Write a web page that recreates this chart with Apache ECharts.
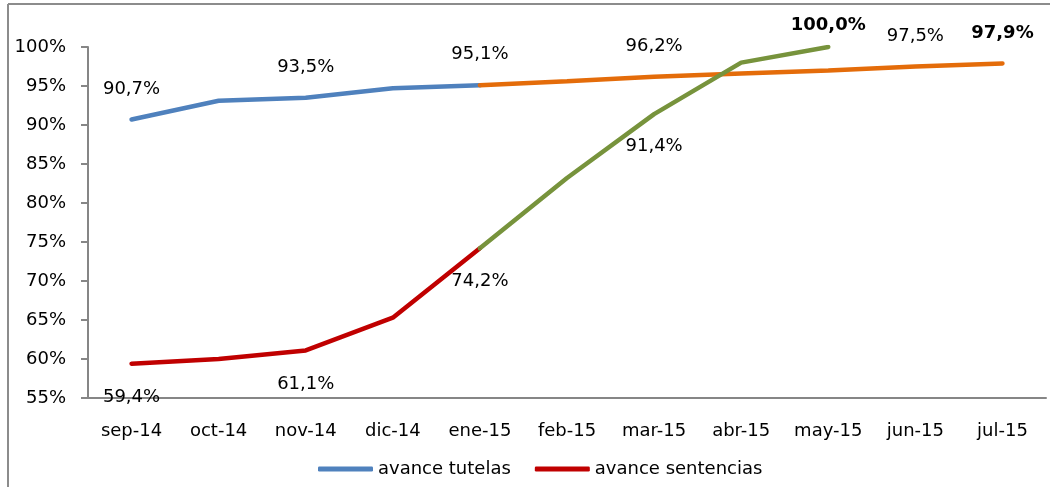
<!DOCTYPE html>
<html>
<head>
<meta charset="utf-8">
<script src="https://cdn.jsdelivr.net/npm/echarts@6/dist/echarts.min.js"></script>
<style>
html,body{margin:0;padding:0;background:#fff;}
#c{width:1050px;height:487px;}
</style>
</head>
<body>
<div id="c"></div>
<script>
const categories = ['sep-14','oct-14','nov-14','dic-14','ene-15','feb-15','mar-15','abr-15','may-15','jun-15','jul-15'];
const tutelas      = [90.7, 93.1, 93.5, 94.7, 95.1, null, null, null, null, null, null];
const tutelasProy  = [null, null, null, null, 95.1, 95.6, 96.2, 96.6, 97.0, 97.5, 97.9];
const sentencias   = [59.4, 60.0, 61.1, 65.3, 74.2, null, null, null, null, null, null];
const sentenciasProy = [null, null, null, null, 74.2, 83.2, 91.4, 98.0, 100.0, null, null];
const yTicks = [55,60,65,70,75,80,85,90,95,100];

const FONT = '"DejaVu Sans", sans-serif';
const FS = 18;
const fmt = v => v.toFixed(1).replace('.', ',') + '%';

// label config: index -> [position, distance, bold]
function build(values, labels) {
  return values.map((v, i) => {
    if (v === null) return null;
    const l = labels[i];
    if (!l) return { value: v, label: { show: false } };
    return {
      value: v,
      label: {
        show: true, position: l[0], distance: l[1],
        fontWeight: l[2] ? 'bold' : 'normal',
        formatter: p => fmt(p.value)
      }
    };
  });
}

const chart = echarts.init(document.getElementById('c'), null, {renderer: 'canvas'});
const lineSeries = (name, data, color) => ({
  name, type: 'line', data, symbol: 'circle', symbolSize: 1, showSymbol: true, connectNulls: false,
  lineStyle: { color, width: 4.5, cap: 'round' }, itemStyle: { color },
  label: { color: '#000', fontSize: FS, fontFamily: FONT },
  emphasis: { disabled: true },
  z: 3
});

chart.setOption({
  animation: false,
  grid: { left: 88, right: 4, top: 47, bottom: 89, containLabel: false },
  legend: {
    data: [
      { name: 'avance tutelas', icon: 'roundRect' },
      { name: 'avance sentencias', icon: 'roundRect' }
    ],
    left: 313, top: 455,
    itemWidth: 55, itemHeight: 5, itemGap: 24,
    textStyle: { fontSize: FS, fontFamily: FONT, color: '#000' }
  },
  xAxis: {
    type: 'category', data: categories, boundaryGap: true,
    axisLine: { lineStyle: { color: '#868686', width: 2 } },
    axisTick: { show: false },
    axisLabel: { color: '#000', fontSize: FS, fontFamily: FONT, margin: 24, interval: 0 }
  },
  yAxis: {
    type: 'value', min: 55, max: 100, interval: 5,
    axisLine: { show: true, lineStyle: { color: '#868686', width: 2 } },
    axisTick: { show: true, length: 7, lineStyle: { color: '#868686', width: 2 } },
    splitLine: { show: false },
    axisLabel: { color: '#000', fontSize: FS, fontFamily: FONT, margin: 22, formatter: v => v + '%' }
  },
  graphic: [
    { type: 'line', shape: { x1: 8, y1: 4, x2: 1050, y2: 4 }, style: { stroke: '#8c8c8c', lineWidth: 2 } },
    { type: 'line', shape: { x1: 8, y1: 4, x2: 8, y2: 487 }, style: { stroke: '#8c8c8c', lineWidth: 2 } }
  ],
  series: [
    lineSeries('avance tutelas', build(tutelas, {0:['top',21], 2:['top',21], 4:['top',21]}), '#4F81BD'),
    lineSeries('tutelas proy', build(tutelasProy, {6:['top',21], 9:['top',21], 10:['top',21,true]}), '#E46C0A'),
    lineSeries('avance sentencias', build(sentencias, {0:['bottom',24], 2:['bottom',24], 4:['bottom',24]}), '#C00000'),
    lineSeries('sentencias proy', build(sentenciasProy, {6:['bottom',23], 8:['top',12,true]}), '#77933C')
  ]
});
</script>
</body>
</html>
